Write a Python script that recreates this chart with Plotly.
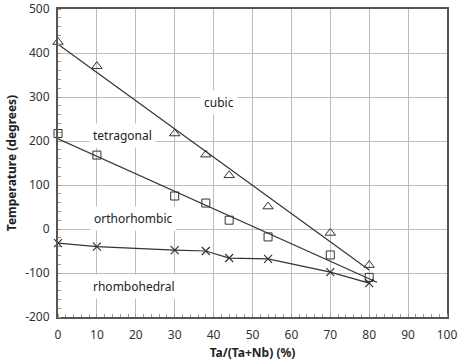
import plotly.graph_objects as go

ta_pct = [0, 10, 30, 38, 44, 54, 70, 80]
cubic_pts = [425, 370, 217, 169, 122, 51, -9, -82]
tetragonal_pts = [217, 168, 75, 59, 20, -18, -59, -110]
rhombo_pts = [-32, -40, -48, -50, -66, -68, -98, -123]

cubic_fit_x = [0, 80]
cubic_fit_y = [420, -93]
tetra_fit_x = [0, 82]
tetra_fit_y = [205, -121]

phase_labels = ["cubic", "tetragonal", "orthorhombic", "rhombohedral"]
label_x = [41.5, 16.5, 19.5, 19.5]
label_y = [288, 212, 23, -130]

x_ticks = [0, 10, 20, 30, 40, 50, 60, 70, 80, 90, 100]
y_ticks = [-200, -100, 0, 100, 200, 300, 400, 500]

axis_color = "#555555"
line_color = "#333333"
font_family = "Noto Sans"

fig = go.Figure()
fig.add_trace(go.Scatter(x=cubic_fit_x, y=cubic_fit_y, mode="lines",
                         line=dict(color=line_color, width=1.2), showlegend=False))
fig.add_trace(go.Scatter(x=tetra_fit_x, y=tetra_fit_y, mode="lines",
                         line=dict(color=line_color, width=1.2), showlegend=False))
fig.add_trace(go.Scatter(x=ta_pct, y=rhombo_pts, mode="lines+markers", cliponaxis=False,
                         line=dict(color=line_color, width=1.2),
                         marker=dict(symbol="x-thin", size=8, line=dict(color=line_color, width=1.2)),
                         showlegend=False))
fig.add_trace(go.Scatter(x=ta_pct, y=cubic_pts, mode="markers", cliponaxis=False,
                         marker=dict(symbol="triangle-up-open", size=9, color=line_color,
                                     line=dict(width=1)), showlegend=False))
fig.add_trace(go.Scatter(x=ta_pct, y=tetragonal_pts, mode="markers", cliponaxis=False,
                         marker=dict(symbol="square-open", size=8, color=line_color,
                                     line=dict(width=1)), showlegend=False))

for t, x, y in zip(phase_labels, label_x, label_y):
    fig.add_annotation(x=x, y=y, text=t, showarrow=False, bgcolor="white",
                       font=dict(size=12, color="#222222", family=font_family),
                       borderpad=3)

common = dict(showline=True, linecolor=axis_color, linewidth=2, mirror=True,
              showgrid=True, gridcolor="#bdbdbd", gridwidth=1, zeroline=False,
              ticks="", automargin=False,
              tickfont=dict(size=12, color="#333333", family=font_family))

fig.update_xaxes(range=[0, 100], tickvals=x_ticks, ticktext=[str(v) for v in x_ticks],
                 ticklabelstandoff=6,
                 minor=dict(dtick=2, tick0=0, ticks="inside", ticklen=3, tickcolor="#999999", showgrid=False),
                 title=dict(text="<b>Ta/(Ta+Nb) (%)</b>", font=dict(size=12, color="#222222", family=font_family),
                            standoff=6),
                 **common)
fig.update_yaxes(range=[-200, 500], tickvals=y_ticks, ticktext=[str(v) for v in y_ticks],
                 ticklabelstandoff=4,
                 minor=dict(dtick=20, tick0=0, ticks="inside", ticklen=3, tickcolor="#999999", showgrid=False),
                 title=dict(text="<b>Temperature (degrees)</b>", font=dict(size=12, color="#222222", family=font_family),
                            standoff=6),
                 **common)

fig.update_layout(width=462, height=364, margin=dict(l=58, r=15, t=9, b=47),
                  plot_bgcolor="white", paper_bgcolor="white")

fig.write_html("out.html", config={"displayModeBar": False},
               post_script="document.body.style.margin='0';document.body.style.overflow='hidden';")
